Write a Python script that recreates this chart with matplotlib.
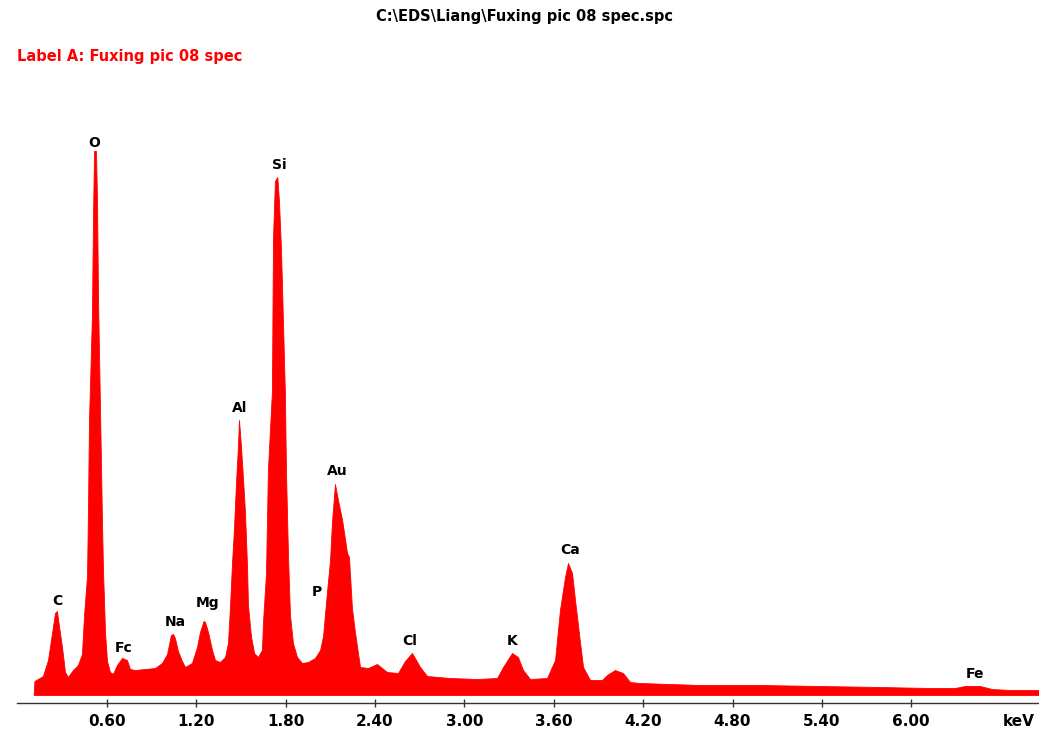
import matplotlib
matplotlib.use("Agg")
import matplotlib.pyplot as plt

# spectrum: energy (keV) and counts (arbitrary, screen units)
energy = [0.110, 0.115, 0.150, 0.172, 0.206, 0.233, 0.253, 0.266, 0.273, 0.300,
          0.320, 0.340, 0.374, 0.407, 0.434, 0.448, 0.468, 0.475, 0.481, 0.501,
          0.508, 0.515, 0.528, 0.535, 0.542, 0.555, 0.568, 0.575, 0.589, 0.602,
          0.622, 0.642, 0.669, 0.703, 0.736, 0.756, 0.790, 0.857, 0.924, 0.971,
          1.005, 1.031, 1.045, 1.058, 1.078, 1.105, 1.126, 1.172, 1.206, 1.226,
          1.250, 1.260, 1.280, 1.307, 1.327, 1.360, 1.394, 1.414, 1.427, 1.441,
          1.454, 1.468, 1.481, 1.488, 1.501, 1.515, 1.528, 1.542, 1.548, 1.568,
          1.589, 1.615, 1.642, 1.649, 1.669, 1.682, 1.709, 1.716, 1.729, 1.745,
          1.756, 1.770, 1.783, 1.796, 1.803, 1.817, 1.830, 1.850, 1.877, 1.911,
          1.951, 1.998, 2.032, 2.052, 2.079, 2.099, 2.112, 2.132, 2.152, 2.179,
          2.213, 2.226, 2.246, 2.266, 2.300, 2.354, 2.414, 2.481, 2.555, 2.602,
          2.649, 2.703, 2.750, 2.904, 3.085, 3.220, 3.260, 3.320, 3.360, 3.394,
          3.441, 3.555, 3.609, 3.642, 3.676, 3.696, 3.723, 3.743, 3.777, 3.797,
          3.844, 3.924, 3.958, 4.011, 4.065, 4.112, 4.179, 4.582, 4.984, 5.387,
          5.790, 6.125, 6.293, 6.360, 6.461, 6.541, 6.662, 6.857]
counts = [0, 14, 17, 19, 35, 62, 82, 84, 76, 48,
          23, 18, 25, 30, 41, 80, 119, 193, 273, 380,
          476, 544, 544, 494, 394, 287, 176, 126, 62, 34,
          23, 21, 30, 37, 35, 26, 25, 26, 27, 32,
          41, 60, 61, 57, 44, 34, 28, 32, 48, 63,
          74, 73, 63, 45, 35, 33, 38, 52, 87, 132,
          166, 213, 249, 275, 249, 216, 183, 128, 90, 59,
          42, 38, 45, 73, 121, 225, 304, 456, 514, 518,
          494, 445, 373, 301, 225, 138, 80, 52, 38, 32,
          33, 37, 45, 59, 104, 135, 173, 211, 195, 176,
          142, 138, 87, 63, 28, 27, 31, 23, 22, 34,
          42, 28, 19, 17, 16, 17, 28, 42, 38, 25,
          16, 17, 35, 85, 118, 132, 122, 95, 52, 28,
          15, 15, 20, 25, 22, 13, 12, 10, 10, 9,
          8, 7, 7, 9, 9, 6, 5, 5]

# element labels and where they sit
elements = ["C", "O", "Fc", "Na", "Mg", "Al", "Si", "P", "Au", "Cl", "K", "Ca", "Fe"]
label_kev = [0.266, 0.515, 0.716, 1.058, 1.280, 1.495, 1.756, 2.011, 2.146, 2.636, 3.320, 3.709, 6.427]
label_cnt = [94, 552, 47, 73, 92, 287, 530, 103, 224, 54, 54, 145, 21]

tick_kev = [0.6, 1.2, 1.8, 2.4, 3.0, 3.6, 4.2, 4.8, 5.4, 6.0]

fig = plt.figure(figsize=(10.39, 7.31), dpi=100)
ax = fig.add_axes([17.3 / 1039, 28 / 731, 1 - 17.3 / 1039, 608 / 731])

ax.fill_between(energy, 0, counts, color="#ff0000", linewidth=0.6, edgecolor="#ff0000")

for name, x, y in zip(elements, label_kev, label_cnt):
    ax.text(x, y, name, ha="center", va="center", fontsize=10, fontweight="bold",
            color="black")

ax.set_xlim(0, 6.857)
ax.set_ylim(-8, 600)
for s in ["left", "right", "top"]:
    ax.spines[s].set_visible(False)
ax.spines["bottom"].set_color("#333333")
ax.spines["bottom"].set_linewidth(1.0)
ax.set_yticks([])
ax.set_xticks(tick_kev)
ax.set_xticklabels(["%.2f" % t for t in tick_kev], fontsize=11, fontweight="bold")
ax.tick_params(axis="x", direction="inout", length=6, width=1, color="#333333", pad=5)
ax.text(6.72, -8, "keV", transform=ax.transData, ha="center", va="top",
        fontsize=11, fontweight="bold")
# push keV down to tick label row
ax.texts[-1].set_y(-19)

fig.text(525 / 1039, 1 - 17 / 731, "C:\\EDS\\Liang\\Fuxing pic 08 spec.spc",
         ha="center", va="center", fontsize=10.5, fontweight="bold")
fig.text(17 / 1039, 1 - 57 / 731, "Label A: Fuxing pic 08 spec",
         ha="left", va="center", fontsize=10.5, fontweight="bold", color="#ff0000")

fig.savefig("out.png", dpi=100)
